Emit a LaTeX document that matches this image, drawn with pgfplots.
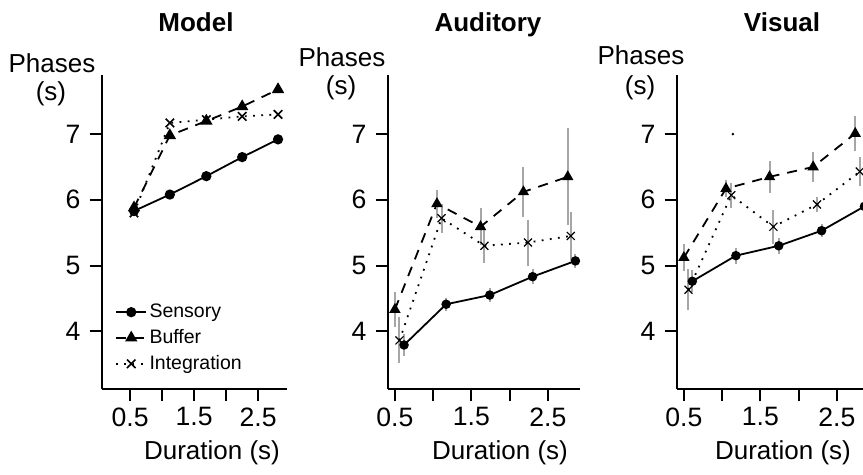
\documentclass[border=0pt]{standalone}
\usepackage{fontspec}
\setmainfont{Liberation Sans}
\usepackage{pgfplots}
\pgfplotsset{compat=1.18}

\newcommand{\fs}{\fontsize{13}{15.5}\selectfont}
\newcommand{\tfs}{\fontsize{13.3}{16}\selectfont}
\newcommand{\lfs}{\fontsize{9.75}{12}\selectfont}

\pgfplotsset{
  panel/.style={
    scale only axis, width=96pt, height=157pt,
    ymin=3.12, ymax=7.9,
    axis x line*=bottom, axis y line*=left,
    axis line style={-, line width=1pt},
    tick align=outside, major tick length=6.2pt,
    tick style={black, line width=1pt},
    xtick={0.5,1,1.5,2,2.5}, xticklabels={0.5,,1.5,,2.5},
    ytick={4,5,6,7},
    /pgf/number format/assume math mode=true,
    tick label style={font=\tfs},
    yticklabel style={xshift=-1pt},
    xticklabel style={yshift=0.5pt},
    clip=false,
  },
  sens/.style={black, line width=0.9pt, mark=*, mark size=2.1pt},
  buff/.style={black, line width=0.9pt, dash pattern=on 5pt off 4pt,
    mark=triangle*, mark size=2.7pt, mark options={solid}},
  integ/.style={black, line width=0.9pt, dash pattern=on 0.9pt off 3.2pt,
    mark=x, mark size=3pt, mark options={solid, line width=0.8pt}},
  sensB/.style={sens, mark size=1.9pt},
  buffB/.style={buff, mark size=2.4pt},
  integB/.style={integ, mark size=2.8pt, mark options={solid, line width=0.6pt}},
  ebar/.style={draw=none, mark=none, forget plot,
    error bars/.cd, y dir=both, y explicit, error mark=none,
    error bar style={draw=black!35, line width=1pt, solid}},
}

\begin{document}
\begin{tikzpicture}

% ---------------- Model ----------------
\begin{axis}[panel, at={(51pt,-194.5pt)}, width=92.5pt,
    xmin=0.06, xmax=2.95,
    legend cell align=left,
    legend style={at={(axis description cs:0.07,0.28)}, anchor=north west,
      draw=none, fill=none, font=\lfs, inner sep=0pt, row sep=2pt,
      nodes={inner sep=1.2pt}},
    legend image code/.code={\draw[mark repeat=2,mark phase=2]
      plot coordinates {(0pt,0pt)(7.5pt,0pt)(15pt,0pt)};}]
  \addplot[sens] coordinates {(0.56,5.83) (1.12,6.08) (1.69,6.36) (2.25,6.65) (2.81,6.92)};
  \addlegendentry{Sensory}
  \addplot[buff] coordinates {(0.56,5.88) (1.12,6.98) (1.69,7.20) (2.25,7.42) (2.81,7.68)};
  \addlegendentry{Buffer}
  \addplot[integ] coordinates {(0.56,5.80) (1.12,7.17) (1.69,7.22) (2.25,7.27) (2.81,7.30)};
  \addlegendentry{Integration}
\end{axis}

% ---------------- Auditory ----------------
\begin{axis}[panel, at={(194pt,-194.5pt)}, xmin=0.41, xmax=2.92]
  \addplot[ebar] coordinates {(0.56,3.86) +- (0,0.35) (1.11,5.72) +- (0,0.22)
    (1.67,5.30) +- (0,0.26) (2.24,5.35) +- (0,0.35) (2.80,5.45) +- (0,0.36)};
  \addplot[integB] coordinates {(0.56,3.86) (1.11,5.72) (1.67,5.30) (2.24,5.35) (2.80,5.45)};
  \addplot[sensB] coordinates {(0.62,3.79) (1.17,4.41) (1.74,4.55) (2.30,4.83) (2.86,5.07)};
  \addplot[buffB] coordinates {(0.50,4.33) (1.05,5.94) (1.62,5.59) (2.18,6.12) (2.76,6.35)};
  \addplot[ebar] coordinates {(0.62,3.79) +- (0,0.17) (1.17,4.41) +- (0,0.10)
    (1.74,4.55) +- (0,0.10) (2.30,4.83) +- (0,0.11) (2.86,5.07) +- (0,0.11)};
  \addplot[ebar] coordinates {(0.50,4.33) +- (0,0.27) (1.05,5.94) +- (0,0.21)
    (1.62,5.59) +- (0,0.28) (2.18,6.12) +- (0,0.38) (2.76,6.35) +- (0,0.74)};
\end{axis}

% ---------------- Visual ----------------
\begin{axis}[panel, at={(338.5pt,-194.5pt)}, xmin=0.41, xmax=2.92]
  \addplot[ebar] coordinates {(0.56,4.63) +- (0,0.31) (1.12,6.07) +- (0,0.19)
    (1.67,5.59) +- (0,0.26) (2.24,5.93) +- (0,0.12) (2.80,6.43) +- (0,0.22)};
  \addplot[integB] coordinates {(0.56,4.63) (1.12,6.07) (1.67,5.59) (2.24,5.93) (2.80,6.43)};
  \addplot[sensB] coordinates {(0.61,4.76) (1.18,5.15) (1.74,5.30) (2.30,5.53) (2.86,5.90)};
  \addplot[buffB] coordinates {(0.50,5.12) (1.05,6.17) (1.62,6.35) (2.19,6.50) (2.74,7.01)};
  \addplot[ebar] coordinates {(0.61,4.76) +- (0,0.17) (1.18,5.15) +- (0,0.12)
    (1.74,5.30) +- (0,0.12) (2.30,5.53) +- (0,0.10) (2.86,5.90) +- (0,0.12)};
  \addplot[ebar] coordinates {(0.50,5.12) +- (0,0.21) (1.05,6.17) +- (0,0.13)
    (1.62,6.35) +- (0,0.24) (2.19,6.50) +- (0,0.23) (2.74,7.01) +- (0,0.27)};
  \addplot[only marks, mark=*, mark size=0.45pt, black, forget plot] coordinates {(1.14,7.0)};
\end{axis}

% titles and labels
\begin{scope}[every node/.style={font=\fs, inner sep=0pt, anchor=base}]
  \node[font=\fs\bfseries] at (98pt,-16pt) {Model};
  \node[font=\fs\bfseries] at (244pt,-16pt) {Auditory};
  \node[font=\fs\bfseries] at (391pt,-16pt) {Visual};
  \node at (26pt,-36.5pt) {Phases};
  \node at (25.5pt,-50.5pt) {(s)};
  \node at (171pt,-33.5pt) {Phases};
  \node at (170.5pt,-47.5pt) {(s)};
  \node at (320.5pt,-32.5pt) {Phases};
  \node at (320pt,-47.5pt) {(s)};
  \node at (106pt,-230pt) {Duration (s)};
  \node at (250pt,-230pt) {Duration (s)};
  \node at (391.5pt,-230pt) {Duration (s)};
\end{scope}

\pgfresetboundingbox
\useasboundingbox (0,0) rectangle (431.5pt,-237.5pt);
\end{tikzpicture}
\end{document}
